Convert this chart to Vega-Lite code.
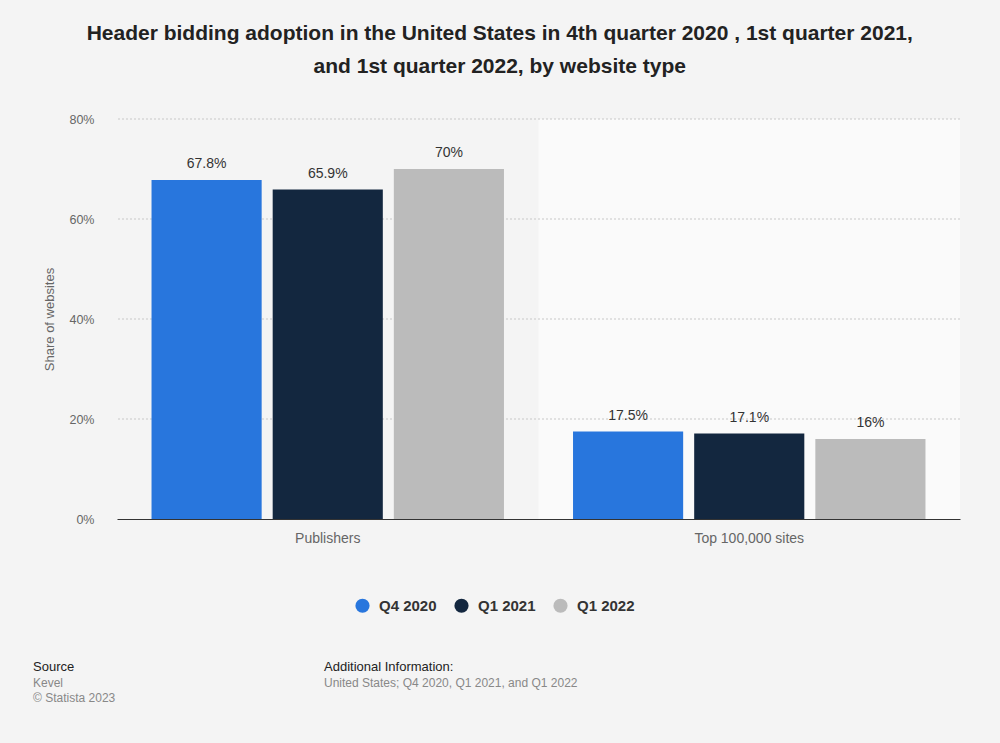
{
  "$schema": "https://vega.github.io/schema/vega-lite/v6.json",
  "background": "#f4f4f4",
  "padding": {"left": 33, "top": 23, "right": 40, "bottom": 39},
  "autosize": {"type": "pad"},
  "config": {
    "view": {"stroke": null},
    "font": "Liberation Sans",
    "axis": {"grid": false}
  },
  "title": {
    "text": ["Header bidding adoption in the United States in 4th quarter 2020 , 1st quarter 2021,", "and 1st quarter 2022, by website type"],
    "anchor": "middle",
    "fontSize": 21,
    "fontWeight": "bold",
    "color": "#222222",
    "lineHeight": 33,
    "offset": 36,
    "dx": 3
  },
  "resolve": {"legend": {"color": "independent"}},
  "spacing": 47,
  "vconcat": [
    {
      "width": 843,
      "height": 400,
      "data": {
        "values": [
          {"category": "Publishers", "series": "Q4 2020", "value": 0.678},
          {"category": "Publishers", "series": "Q1 2021", "value": 0.659},
          {"category": "Publishers", "series": "Q1 2022", "value": 0.70},
          {"category": "Top 100,000 sites", "series": "Q4 2020", "value": 0.175},
          {"category": "Top 100,000 sites", "series": "Q1 2021", "value": 0.171},
          {"category": "Top 100,000 sites", "series": "Q1 2022", "value": 0.16}
        ]
      },
      "layer": [
        {
          "data": {"values": [{"category": "Top 100,000 sites"}]},
          "mark": {"type": "rect", "color": "#fafafa"},
          "encoding": {
            "x": {"field": "category", "type": "nominal", "scale": {"domain": ["Publishers", "Top 100,000 sites"], "paddingInner": 0, "paddingOuter": 0}, "title": null},
            "y": {"datum": 0.8, "type": "quantitative"},
            "y2": {"datum": 0}
          }
        },
        {
          "data": {"values": [{"value": 0.2}, {"value": 0.4}, {"value": 0.6}, {"value": 0.8}]},
          "mark": {"type": "rule", "color": "#c8c8c8", "strokeDash": [2, 2], "strokeWidth": 1},
          "encoding": {
            "y": {"field": "value", "type": "quantitative", "scale": {"domain": [0, 0.8]}, "title": "Share of websites"}
          }
        },
        {
          "mark": {"type": "bar"},
          "encoding": {
            "x": {
              "field": "category", "type": "nominal",
              "scale": {"domain": ["Publishers", "Top 100,000 sites"], "paddingInner": 0, "paddingOuter": 0},
              "title": null,
              "axis": {"labelAngle": 0, "labelAlign": "center", "domain": true, "domainColor": "#333333", "domainWidth": 1, "ticks": false, "labelFontSize": 14, "labelColor": "#666666", "labelPadding": 19}
            },
            "xOffset": {
              "field": "series", "type": "nominal",
              "scale": {"domain": ["Q4 2020", "Q1 2021", "Q1 2022"], "paddingInner": 0.091, "paddingOuter": 0.285}
            },
            "y": {
              "field": "value", "type": "quantitative",
              "scale": {"domain": [0, 0.8]},
              "title": "Share of websites",
              "axis": {"values": [0, 0.2, 0.4, 0.6, 0.8], "format": ".0%", "domain": false, "ticks": false, "labelPadding": 23, "labelFontSize": 12.5, "labelColor": "#666666", "titleColor": "#666666", "titleFontSize": 13, "titleFontWeight": "normal", "titlePadding": 12}
            },
            "color": {
              "field": "series", "type": "nominal",
              "scale": {"domain": ["Q4 2020", "Q1 2021", "Q1 2022"], "range": ["#2876dd", "#13273f", "#bbbbbb"]},
              "legend": {"orient": "none", "legendX": 238, "legendY": 479, "direction": "horizontal", "title": null, "symbolType": "circle", "symbolSize": 201, "symbolStrokeWidth": 0, "labelFontSize": 15, "labelFontWeight": "bold", "labelColor": "#333333", "columnPadding": 17, "labelOffset": 9}
            }
          }
        },
        {
          "mark": {"type": "text", "dy": -12, "baseline": "alphabetic", "fontSize": 14, "color": "#333333"},
          "encoding": {
            "x": {"field": "category", "type": "nominal", "scale": {"domain": ["Publishers", "Top 100,000 sites"], "paddingInner": 0, "paddingOuter": 0}, "title": null},
            "xOffset": {"field": "series", "type": "nominal", "scale": {"domain": ["Q4 2020", "Q1 2021", "Q1 2022"], "paddingInner": 0.091, "paddingOuter": 0.285}},
            "y": {"field": "value", "type": "quantitative"},
            "text": {"field": "value", "type": "quantitative", "format": ".1~%"}
          }
        }
      ]
    },
    {
      "spacing": 8,
      "hconcat": [
        {
          "width": 199,
          "height": 1,
          "data": {"values": []},
          "mark": "text",
          "encoding": {},
          "title": {"text": "Source", "subtitle": ["Kevel", "© Statista 2023"], "anchor": "start", "dx": -84, "fontSize": 13, "fontWeight": "normal", "color": "#222222", "subtitleColor": "#888888", "subtitleFontSize": 12, "subtitlePadding": 4, "subtitleLineHeight": 15, "offset": 0}
        },
        {
          "width": 500,
          "height": 1,
          "data": {"values": []},
          "mark": "text",
          "encoding": {},
          "title": {"text": "Additional Information:", "subtitle": ["United States; Q4 2020, Q1 2021, and Q1 2022", " "], "anchor": "start", "fontSize": 13, "fontWeight": "normal", "color": "#222222", "subtitleColor": "#888888", "subtitleFontSize": 12, "subtitlePadding": 4, "subtitleLineHeight": 15, "offset": 0}
        }
      ]
    }
  ]
}
